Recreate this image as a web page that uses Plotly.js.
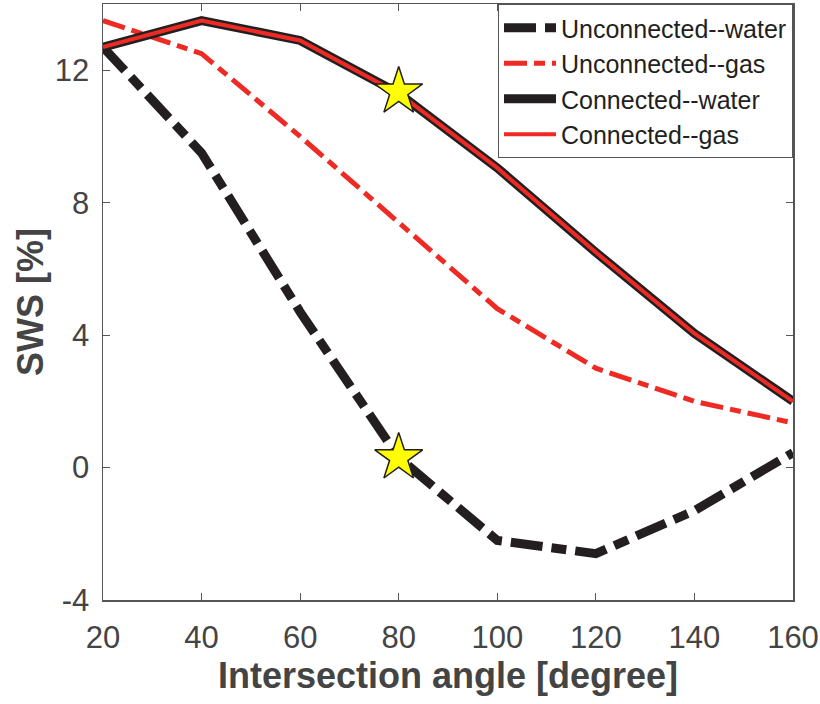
<!DOCTYPE html>
<html>
<head>
<meta charset="utf-8">
<script src="https://cdn.plot.ly/plotly-3.0.1.min.js"></script>
<style>html,body{margin:0;padding:0;background:#fff;}#chart{width:820px;height:704px;}</style>
</head>
<body>
<div id="chart"></div>
<script>
var angles = [20, 40, 60, 80, 100, 120, 140, 160];
var unconnectedWater = [12.7, 9.5, 4.7, 0.3, -2.2, -2.6, -1.3, 0.45];
var unconnectedGas = [13.5, 12.5, 10.0, 7.4, 4.8, 3.0, 2.0, 1.35];
var connectedWater = [12.7, 13.5, 12.9, 11.3, 9.05, 6.5, 4.05, 2.0];
var connectedGas = [12.7, 13.5, 12.9, 11.3, 9.05, 6.5, 4.05, 2.0];
var starX = [80, 80];
var starY = [11.35, 0.3];
var xTicks = [20, 40, 60, 80, 100, 120, 140, 160];
var yTicks = [-4, 0, 4, 8, 12];

var BLACK = '#231f20', RED = '#ee2a24';
var traces = [
  {x: angles, y: unconnectedWater, name: 'Unconnected--water', mode: 'lines',
   line: {color: BLACK, width: 9, dash: '32px,9px,15px,9px'}},
  {x: angles, y: unconnectedGas, name: 'Unconnected--gas', mode: 'lines',
   line: {color: RED, width: 5, dash: '23px,7px,11px,7px'}},
  {x: angles, y: connectedWater, name: 'Connected--water', mode: 'lines',
   line: {color: BLACK, width: 9}},
  {x: angles, y: connectedGas, name: 'Connected--gas', mode: 'lines',
   line: {color: RED, width: 4}},
  {x: starX, y: starY, mode: 'markers', showlegend: false, hoverinfo: 'skip',
   marker: {symbol: 'star', size: 36, color: '#ffff00', line: {color: BLACK, width: 1.5}}}
];

var axisCommon = {
  showgrid: false, zeroline: false, showline: true, linecolor: '#555', linewidth: 1.5,
  mirror: 'ticks', ticks: 'inside', ticklen: 7, tickwidth: 1.2, tickcolor: '#555',
  tickfont: {family: 'Liberation Sans, Arial, sans-serif', size: 31, color: '#444'}
};

var layout = {
  width: 820, height: 704,
  margin: {l: 103, r: 27, t: 4, b: 104},
  paper_bgcolor: '#fff', plot_bgcolor: '#fff',
  showlegend: true,
  xaxis: Object.assign({}, axisCommon, {
    range: [20, 160], tickvals: xTicks, ticktext: xTicks.map(String),
    ticklabelstandoff: 9,
    title: {text: 'Intersection angle [degree]', standoff: 6,
            font: {family: 'Liberation Sans, Arial, sans-serif', size: 36, color: '#444', weight: 'bold'}}
  }),
  yaxis: Object.assign({}, axisCommon, {
    range: [-4, 14], tickvals: yTicks, ticktext: yTicks.map(String),
    ticklabelstandoff: 6,
    title: {text: 'SWS [%]', standoff: 0,
            font: {family: 'Liberation Sans, Arial, sans-serif', size: 36, color: '#444', weight: 'bold'}}
  }),
  legend: {x: 1, xanchor: 'right', y: 1, yanchor: 'top',
           bgcolor: '#fff', bordercolor: '#555', borderwidth: 1,
           font: {family: 'Liberation Sans, Arial, sans-serif', size: 25, color: BLACK},
           itemwidth: 52, tracegroupgap: 0}
};

Plotly.newPlot('chart', traces, layout, {displayModeBar: false, staticPlot: true});
</script>
</body>
</html>
